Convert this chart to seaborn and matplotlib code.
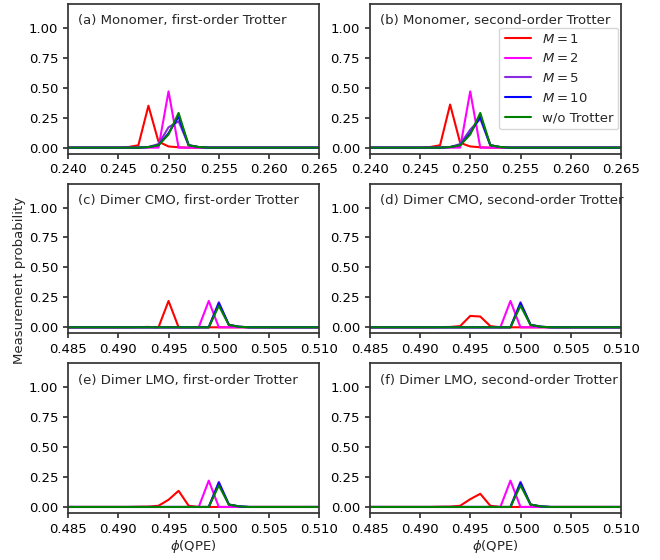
import numpy as np
import pandas as pd
import seaborn as sns
from matplotlib import pyplot as plt

# phase grids (step 0.001) for the two systems
phase_mono = np.round(np.arange(0.236, 0.2695, 0.001), 3)
phase_dimer = np.round(np.arange(0.481, 0.5145, 0.001), 3)

series_names = ["$M=1$", "$M=2$", "$M=5$", "$M=10$", "w/o Trotter"]
series_colors = ["red", "magenta", "blueviolet", "blue", "green"]

titles = ["(a) Monomer, first-order Trotter", "(b) Monomer, second-order Trotter",
          "(c) Dimer CMO, first-order Trotter", "(d) Dimer CMO, second-order Trotter",
          "(e) Dimer LMO, first-order Trotter", "(f) Dimer LMO, second-order Trotter"]

# nonzero probabilities, {phase: probability}
mono_1st = [
    {0.246: 0.005, 0.247: 0.02, 0.248: 0.35, 0.249: 0.05, 0.250: 0.01, 0.251: 0.003},
    {0.249: 0.0, 0.250: 0.47, 0.251: 0.0},
    {0.248: 0.005, 0.249: 0.03, 0.250: 0.17, 0.251: 0.22, 0.252: 0.02, 0.253: 0.005},
    {0.248: 0.005, 0.249: 0.02, 0.250: 0.12, 0.251: 0.26, 0.252: 0.02, 0.253: 0.005},
    {0.248: 0.005, 0.249: 0.02, 0.250: 0.11, 0.251: 0.29, 0.252: 0.02, 0.253: 0.005},
]
mono_2nd = [
    {0.246: 0.005, 0.247: 0.02, 0.248: 0.36, 0.249: 0.04, 0.250: 0.01, 0.251: 0.003},
    {0.249: 0.0, 0.250: 0.47, 0.251: 0.0},
    {0.248: 0.005, 0.249: 0.03, 0.250: 0.15, 0.251: 0.24, 0.252: 0.02, 0.253: 0.005},
    {0.248: 0.005, 0.249: 0.02, 0.250: 0.12, 0.251: 0.26, 0.252: 0.02, 0.253: 0.005},
    {0.248: 0.005, 0.249: 0.02, 0.250: 0.11, 0.251: 0.29, 0.252: 0.02, 0.253: 0.005},
]
tail = {0.499: 0.0, 0.500: 0.0, 0.501: 0.02, 0.502: 0.005}
cmo_1st = [
    {0.492: 0.002, 0.493: 0.003, 0.494: 0.0, 0.495: 0.22, 0.496: 0.0},
    {0.498: 0.0, 0.499: 0.22, 0.500: 0.0},
    {**tail, 0.500: 0.21},
    {**tail, 0.500: 0.20},
    {**tail, 0.500: 0.18},
]
cmo_2nd = [
    {0.492: 0.002, 0.493: 0.003, 0.494: 0.01, 0.495: 0.095, 0.496: 0.09, 0.497: 0.01},
    {0.498: 0.0, 0.499: 0.22, 0.500: 0.0},
    {**tail, 0.500: 0.21},
    {**tail, 0.500: 0.20},
    {**tail, 0.500: 0.18},
]
lmo_1st = [
    {0.492: 0.002, 0.493: 0.003, 0.494: 0.01, 0.495: 0.06, 0.496: 0.135, 0.497: 0.01},
    {0.498: 0.0, 0.499: 0.22, 0.500: 0.0},
    {**tail, 0.500: 0.21},
    {**tail, 0.500: 0.20},
    {**tail, 0.500: 0.18},
]
lmo_2nd = [
    {0.492: 0.002, 0.493: 0.003, 0.494: 0.01, 0.495: 0.065, 0.496: 0.11, 0.497: 0.01},
    {0.498: 0.0, 0.499: 0.22, 0.500: 0.0},
    {**tail, 0.500: 0.21},
    {**tail, 0.500: 0.20},
    {**tail, 0.500: 0.18},
]

panels = [(phase_mono, mono_1st), (phase_mono, mono_2nd),
          (phase_dimer, cmo_1st), (phase_dimer, cmo_2nd),
          (phase_dimer, lmo_1st), (phase_dimer, lmo_2nd)]

sns.set_theme(style="ticks")
plt.rcParams['font.family'] = ['DejaVu Sans']
fs = 9.5

fig, axes = plt.subplots(3, 2, figsize=(6.6, 5.6), dpi=100)
fig.subplots_adjust(left=0.103, right=0.941, top=0.993, bottom=0.084, wspace=0.2, hspace=0.2)

for i, ax in enumerate(axes.flat):
    grid, peaks = panels[i]
    rows = []
    for name, pk in zip(series_names, peaks):
        for p in grid:
            rows.append({"phase": p, "prob": pk.get(p, 0.0), "series": name})
    df = pd.DataFrame(rows)
    sns.lineplot(data=df, x="phase", y="prob", hue="series", palette=series_colors,
                 hue_order=series_names, linewidth=1.5, ax=ax, legend=(i == 1))
    if i < 2:
        ax.set_xlim(0.240, 0.265)
        ax.set_xticks([0.240, 0.245, 0.250, 0.255, 0.260, 0.265])
    else:
        ax.set_xlim(0.485, 0.510)
        ax.set_xticks([0.485, 0.490, 0.495, 0.500, 0.505, 0.510])
    ax.xaxis.set_major_formatter(plt.FormatStrFormatter('%.3f'))
    ax.set_ylim(-0.05, 1.2)
    ax.set_yticks([0.0, 0.25, 0.5, 0.75, 1.0])
    ax.yaxis.set_major_formatter(plt.FormatStrFormatter('%.2f'))
    ax.set_ylabel("")
    ax.set_xlabel("$\\phi$(QPE)" if i >= 4 else "", fontsize=fs, labelpad=2)
    ax.tick_params(labelsize=fs, length=3.5, color="#333333", labelcolor="black")
    for s in ax.spines.values():
        s.set_color("#333333")
    ax.text(0.04, 0.93, titles[i], transform=ax.transAxes, fontsize=fs, va="top")

leg = axes[0, 1].legend(loc="upper right", bbox_to_anchor=(1.0, 0.86), borderaxespad=0.2,
                        fontsize=fs, framealpha=0.8)
fig.text(0.03, 0.5, "Measurement probability", rotation=90, va="center", ha="center", fontsize=fs)

fig.savefig("out.png", dpi=100)
